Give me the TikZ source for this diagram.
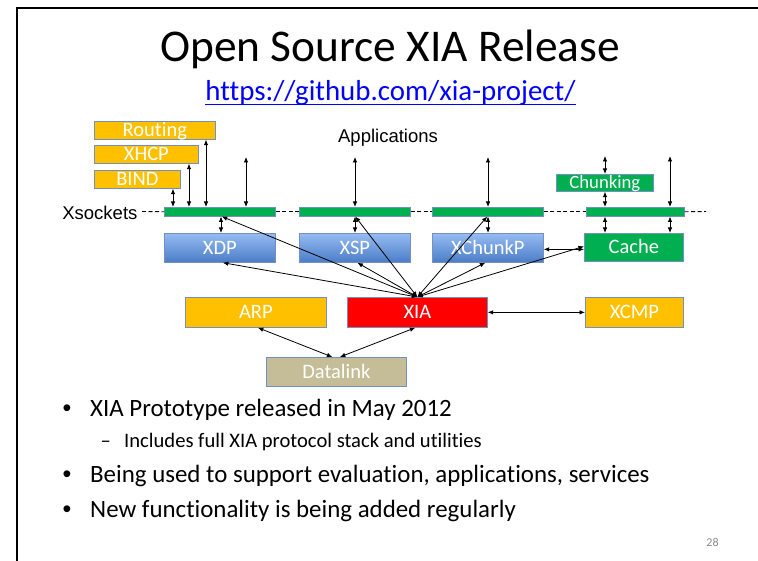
\documentclass[tikz,border=0pt]{standalone}
\usepackage{fontspec}
\setmainfont{Carlito}[Ligatures={TeX,NoCommon}]
\newfontfamily\arialfont{Liberation Sans}
\usetikzlibrary{arrows.meta}
\definecolor{gold}{HTML}{FFC000}
\definecolor{leaf}{HTML}{00B050}
\definecolor{xiared}{HTML}{FF0000}
\definecolor{tan}{HTML}{C4BD97}
\definecolor{edgeblue}{HTML}{7390C0}
\definecolor{bluetop}{HTML}{97BBF3}
\definecolor{bluebot}{HTML}{4A7DC6}
\definecolor{linkblue}{HTML}{0000FF}
\definecolor{pagegray}{HTML}{8A8A8A}
\tikzset{
  box/.style={draw=edgeblue, line width=0.7pt, inner sep=0pt, text=white,
    font=\fontsize{20.5}{21}\selectfont, text height=13pt, text depth=0pt},
  proto/.style={box, top color=bluetop, bottom color=bluebot},
  sockbar/.style={draw=edgeblue, line width=0.5pt, fill=leaf, inner sep=0pt,
    minimum height=9pt},
  dar/.style={line width=0.8pt, {Latex[length=5.5pt,width=4.5pt]}-{Latex[length=5.5pt,width=4.5pt]}},
  sockline/.style={line width=0.9pt, dash pattern=on 4pt off 2.5pt},
  bodytext/.style={anchor=base west, inner sep=0pt, font=\fontsize{24.9}{25}\selectfont},
  subtext/.style={anchor=base west, inner sep=0pt, font=\fontsize{20.6}{21}\selectfont},
  bulletmark/.style={anchor=base west, inner sep=0pt, font=\arialfont\fontsize{25}{25}\selectfont},
  arialtext/.style={inner sep=0pt, font=\arialfont\fontsize{18.5}{19}\selectfont},
}
\begin{document}
\begin{tikzpicture}[x=1pt, y=-1pt]
\useasboundingbox (0,0) rectangle (758,561);
% slide frame
\draw[line width=2.2pt] (17,561) -- (17,8) -- (758,8);

% heading
\node[anchor=base, inner sep=0pt, font=\fontsize{45.4}{46}\selectfont] (title) at (390,62) {Open Source XIA Release};
\node[anchor=base, inner sep=0pt, font=\fontsize{28.9}{29}\selectfont, text=linkblue] (url) at (390.5,101)
  {https://github.com/xia-project/};
\draw[linkblue, line width=1.4pt] ([yshift=-3.8pt]url.base west) -- ([yshift=-3.8pt]url.base east);

% applications
\node[box, fill=gold, minimum width=121pt, minimum height=18pt, anchor=north west] (routing) at (94,121) {Routing};
\node[box, fill=gold, minimum width=104pt, minimum height=18pt, anchor=north west] (xhcp) at (94,145) {XHCP};
\node[box, fill=gold, minimum width=86pt, minimum height=18pt, anchor=north west] (bind) at (94,170) {BIND};
\node[arialtext, anchor=base] (apps) at (388,142.3) {Applications};
\node[box, fill=leaf, minimum width=97pt, minimum height=17pt, anchor=north west,
  font=\fontsize{18.7}{19}\selectfont, text height=12pt] (chunking) at (556,174) {Chunking};

% socket layer
\node[arialtext, anchor=base east] (xsockets) at (137.6,220) {Xsockets};
\node[sockbar, minimum width=111pt, anchor=north west] (bar1) at (164,207) {};
\node[sockbar, minimum width=111pt, anchor=north west] (bar2) at (299,207) {};
\node[sockbar, minimum width=111pt, anchor=north west] (bar3) at (432,207) {};
\node[sockbar, minimum width=98pt, anchor=north west] (bar4) at (586,207) {};
\coordinate (sockstart) at (142,211.5);
\coordinate (sockend) at (706,211.5);
\draw[sockline] (sockstart) -- (bar1.west);
\draw[sockline] (bar1.east) -- (bar2.west);
\draw[sockline] (bar2.east) -- (bar3.west);
\draw[sockline] (bar3.east) -- (bar4.west);
\draw[sockline] (bar4.east) -- (sockend);

% transport protocols
\node[proto, minimum width=111pt, minimum height=29pt, anchor=north west] (xdp) at (164,233) {XDP};
\node[proto, minimum width=111pt, minimum height=29pt, anchor=north west] (xsp) at (299,233) {XSP};
\node[proto, minimum width=111pt, minimum height=29pt, anchor=north west] (xchunkp) at (432,233) {XChunkP};
\node[box, fill=leaf, minimum width=99pt, minimum height=28pt, anchor=north west] (cache) at (584,233) {Cache};

% network and link layers
\node[box, fill=gold, minimum width=141pt, minimum height=30pt, anchor=north west] (arp) at (185,297) {ARP};
\node[box, fill=xiared, minimum width=140pt, minimum height=30pt, anchor=north west] (xia) at (347,297) {XIA};
\node[box, fill=gold, minimum width=98pt, minimum height=30pt, anchor=north west] (xcmp) at (585,297) {XCMP};
\node[box, fill=tan, minimum width=140pt, minimum height=29pt, anchor=north west] (datalink) at (266,357) {Datalink};

% application side arrows
\coordinate (c173) at (173,0);
\coordinate (c189) at (189,0);
\coordinate (c206) at (206,0);
\coordinate (c221) at (221,0);
\coordinate (c355) at (355,0);
\coordinate (c488) at (488,0);
\coordinate (c605) at (605,0);
\coordinate (c670) at (670,0);
\coordinate (app1) at (246,157);
\coordinate (app2) at (355,157);
\coordinate (app3) at (488,157);
\coordinate (app4) at (605,156);
\coordinate (app5) at (670,156);
\draw[dar] (bind.south -| c173) -- (bar1.north -| c173);
\draw[dar] (xhcp.south -| c189) -- (bar1.north -| c189);
\draw[dar] (routing.south -| c206) -- (bar1.north -| c206);
\draw[dar] (app1) -- (bar1.north -| app1);
\draw[dar] (app2) -- (bar2.north -| app2);
\draw[dar] (app3) -- (bar3.north -| app3);
\draw[dar] (app4) -- (chunking.north -| app4);
\draw[dar] (chunking.south -| c605) -- (bar4.north -| c605);
\draw[dar] (app5) -- (bar4.north -| app5);

% socket to protocol arrows
\draw[dar] (bar1.south -| c221) -- (xdp.north -| c221);
\draw[dar] (bar2.south -| c355) -- (xsp.north -| c355);
\draw[dar] (bar3.south -| c488) -- (xchunkp.north -| c488);
\draw[dar] (bar4.south -| c605) -- (cache.north -| c605);
\draw[dar] (bar4.south -| c670) -- (cache.north -| c670);

% fan of arrows from XIA
\draw[dar] (xia.north) -- ([xshift=2pt]bar1.south);
\draw[dar] (xia.north) -- ([xshift=3pt]xdp.south);
\draw[dar] (xia.north) -- ([xshift=0.5pt]bar2.south);
\draw[dar] (xia.north) -- ([xshift=2.5pt]xsp.south);
\draw[dar] (xia.north) -- ([xshift=-0.5pt]bar3.south);
\draw[dar] (xia.north) -- ([xshift=-2.5pt]xchunkp.south);
\draw[dar] (xia.north) -- ([yshift=1pt]cache.west);
\draw[dar] ([yshift=-1.5pt]xchunkp.east) -- ([yshift=-1.5pt]cache.west |- xchunkp.east);
\draw[dar] (xia.east) -- (xcmp.west);
\draw[dar] ([xshift=2pt]arp.south) -- ([xshift=-4pt]datalink.north);
\draw[dar] ([xshift=-2pt]xia.south) -- ([xshift=3.5pt]datalink.north);

% bullet points
\node[bulletmark] (b1dot) at (62.3,416.7) {•};
\node[bodytext] (b1) at (90,416.7) {XIA Prototype released in May 2012};
\node[subtext] (s1dot) at (100.5,447.7) {–};
\node[subtext] (s1) at (124,447.7) {Includes full XIA protocol stack and utilities};
\node[bulletmark] (b2dot) at (62.3,482.3) {•};
\node[bodytext] (b2) at (90,482.3) {Being used to support evaluation, applications, services};
\node[bulletmark] (b3dot) at (62.3,517.7) {•};
\node[bodytext] (b3) at (90,517.7) {New functionality is being added regularly};
\node[anchor=base, inner sep=0pt, font=\fontsize{12}{12}\selectfont, text=pagegray] (pagenum) at (712.5,546) {28};
\end{tikzpicture}
\end{document}
